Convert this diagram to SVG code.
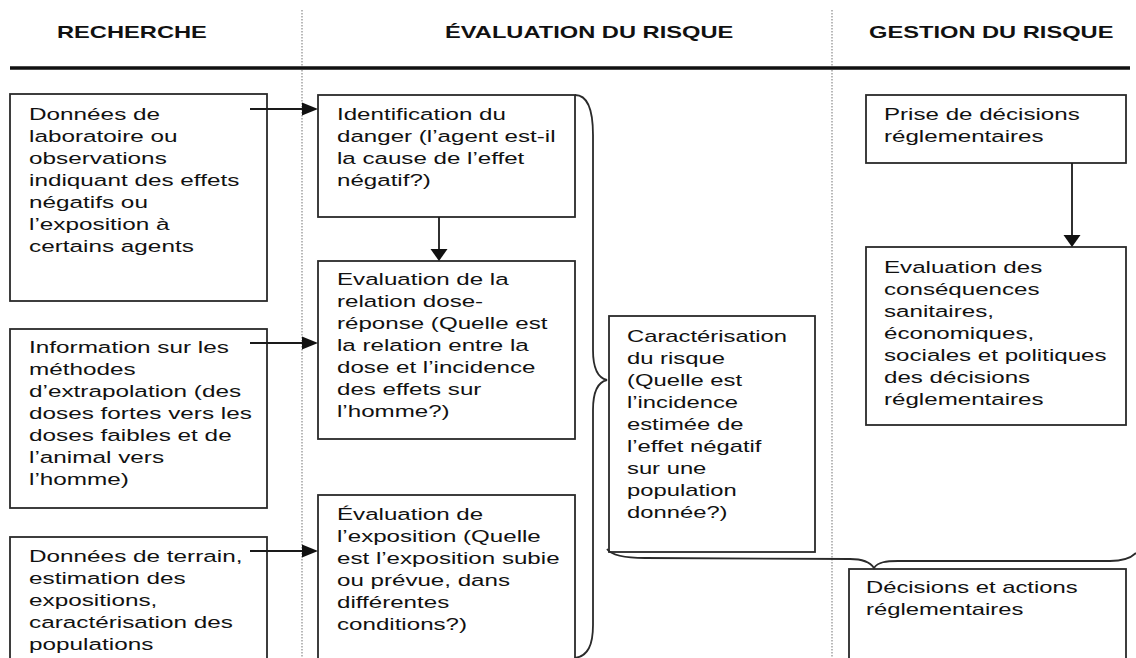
<svg xmlns="http://www.w3.org/2000/svg" width="1136" height="658" viewBox="0 0 1136 658">
<style>
.box{fill:#fff;stroke:#2a2a2a;stroke-width:1.8}
.t{font-family:"Liberation Sans",Arial,sans-serif;font-size:17px;fill:#111}
.h{font-family:"Liberation Sans",Arial,sans-serif;font-size:16px;font-weight:bold;fill:#111}
.ln{stroke:#1a1a1a;stroke-width:1.8;fill:none}
.ah{fill:#111}
.dot{stroke:#8a8a8a;stroke-width:1.2;stroke-dasharray:1.5 1.5}
.br{stroke:#2a2a2a;stroke-width:1.8;fill:none}
</style>
<rect width="1136" height="658" fill="#fff"/>
<g id="frame">
<line class="dot" x1="302" y1="10" x2="302" y2="658"/>
<line class="dot" x1="832" y1="10" x2="832" y2="658"/>
<line x1="10" y1="68" x2="1130" y2="68" stroke="#111" stroke-width="3.5"/>
<text class="h" transform="matrix(1.48 0 0 1 57 38)">RECHERCHE</text>
<text class="h" transform="matrix(1.48 0 0 1 445 38)">ÉVALUATION DU RISQUE</text>
<text class="h" transform="matrix(1.48 0 0 1 869 38)">GESTION DU RISQUE</text>
</g>
<g id="n-labo">
<rect class="box" x="10" y="94" width="257" height="207"/>
<text class="t" transform="matrix(1.43 0 0 1 29 0)"><tspan x="0" y="120">Données de</tspan><tspan x="0" y="142">laboratoire ou</tspan><tspan x="0" y="164">observations</tspan><tspan x="0" y="186">indiquant des effets</tspan><tspan x="0" y="208">négatifs ou</tspan><tspan x="0" y="230">l’exposition à</tspan><tspan x="0" y="252">certains agents</tspan></text>
</g>
<g id="n-info">
<rect class="box" x="10" y="329" width="257" height="179"/>
<text class="t" transform="matrix(1.43 0 0 1 29 0)"><tspan x="0" y="353">Information sur les</tspan><tspan x="0" y="375">méthodes</tspan><tspan x="0" y="397">d’extrapolation (des</tspan><tspan x="0" y="419">doses fortes vers les</tspan><tspan x="0" y="441">doses faibles et de</tspan><tspan x="0" y="463">l’animal vers</tspan><tspan x="0" y="485">l’homme)</tspan></text>
</g>
<g id="n-terrain">
<rect class="box" x="10" y="537" width="257" height="140"/>
<text class="t" transform="matrix(1.43 0 0 1 29 0)"><tspan x="0" y="562">Données de terrain,</tspan><tspan x="0" y="584">estimation des</tspan><tspan x="0" y="606">expositions,</tspan><tspan x="0" y="628">caractérisation des</tspan><tspan x="0" y="650">populations</tspan></text>
</g>
<g id="n-ident">
<rect class="box" x="318" y="95" width="257" height="122"/>
<text class="t" transform="matrix(1.42 0 0 1 337 0)"><tspan x="0" y="120">Identification du</tspan><tspan x="0" y="142">danger (l’agent est-il</tspan><tspan x="0" y="164">la cause de l’effet</tspan><tspan x="0" y="186">négatif?)</tspan></text>
</g>
<g id="n-dose">
<rect class="box" x="318" y="261" width="257" height="178"/>
<text class="t" transform="matrix(1.42 0 0 1 337 0)"><tspan x="0" y="285">Evaluation de la</tspan><tspan x="0" y="307">relation dose-</tspan><tspan x="0" y="329">réponse (Quelle est</tspan><tspan x="0" y="351">la relation entre la</tspan><tspan x="0" y="373">dose et l’incidence</tspan><tspan x="0" y="395">des effets sur</tspan><tspan x="0" y="417">l’homme?)</tspan></text>
</g>
<g id="n-expo">
<rect class="box" x="318" y="495" width="257" height="180"/>
<text class="t" transform="matrix(1.42 0 0 1 337 0)"><tspan x="0" y="520">Évaluation de</tspan><tspan x="0" y="542">l’exposition (Quelle</tspan><tspan x="0" y="564">est l’exposition subie</tspan><tspan x="0" y="586">ou prévue, dans</tspan><tspan x="0" y="608">différentes</tspan><tspan x="0" y="630">conditions?)</tspan></text>
</g>
<g id="n-carac">
<rect class="box" x="609" y="316" width="206" height="236"/>
<text class="t" transform="matrix(1.4 0 0 1 627 0)"><tspan x="0" y="342">Caractérisation</tspan><tspan x="0" y="364">du risque</tspan><tspan x="0" y="386">(Quelle est</tspan><tspan x="0" y="408">l’incidence</tspan><tspan x="0" y="430">estimée de</tspan><tspan x="0" y="452">l’effet négatif</tspan><tspan x="0" y="474">sur une</tspan><tspan x="0" y="496">population</tspan><tspan x="0" y="518">donnée?)</tspan></text>
</g>
<g id="n-prise">
<rect class="box" x="866" y="95" width="260" height="68"/>
<text class="t" transform="matrix(1.42 0 0 1 884 0)"><tspan x="0" y="120">Prise de décisions</tspan><tspan x="0" y="142">réglementaires</tspan></text>
</g>
<g id="n-consequences">
<rect class="box" x="866" y="247" width="260" height="178"/>
<text class="t" transform="matrix(1.42 0 0 1 884 0)"><tspan x="0" y="273">Evaluation des</tspan><tspan x="0" y="295">conséquences</tspan><tspan x="0" y="317">sanitaires,</tspan><tspan x="0" y="339">économiques,</tspan><tspan x="0" y="361">sociales et politiques</tspan><tspan x="0" y="383">des décisions</tspan><tspan x="0" y="405">réglementaires</tspan></text>
</g>
<g id="n-decisions">
<rect class="box" x="849" y="569" width="277" height="100"/>
<text class="t" transform="matrix(1.4 0 0 1 866 0)"><tspan x="0" y="593">Décisions et actions</tspan><tspan x="0" y="615">réglementaires</tspan></text>
</g>
<g id="connectors">
<line class="ln" x1="250" y1="109" x2="303" y2="109"/>
<polygon class="ah" points="318,109 302,102.5 302,115.5"/>
<line class="ln" x1="250" y1="343" x2="303" y2="343"/>
<polygon class="ah" points="318,343 302,336.5 302,349.5"/>
<line class="ln" x1="250" y1="551" x2="303" y2="551"/>
<polygon class="ah" points="318,551 302,544.5 302,557.5"/>
<line class="ln" x1="439" y1="217" x2="439" y2="250"/>
<polygon class="ah" points="439,261 430.5,249 447.5,249"/>
<line class="ln" x1="1072" y1="163" x2="1072" y2="236"/>
<polygon class="ah" points="1072,247 1063.5,235 1080.5,235"/>
<path class="br" d="M575,95 C588,95 593,110 593,135 L593,350 C593,368 598,378 607,380 C598,382 593,392 593,410 L593,625 C593,645 588,656 575,658"/>
<path class="br" d="M607,549 C612,556 625,558 645,558 L850,559 C862,559 870,562 874,568 C878,562 886,561 898,561 L1110,561 C1125,561 1132,557 1136,553"/>
</g>
</svg>
